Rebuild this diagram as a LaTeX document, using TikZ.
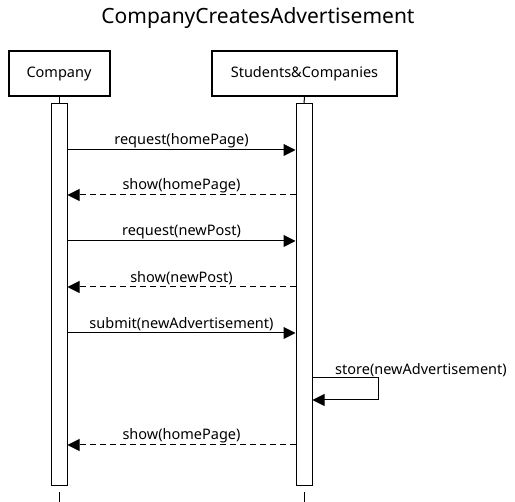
\documentclass[tikz,border=0pt]{standalone}
\usepackage{fontspec}
\setmainfont{Noto Sans}
\usepackage{tikz}
\usetikzlibrary{arrows.meta}
\tikzstyle{actor} = [rectangle, minimum width=101pt, minimum height=45pt, text centered, draw=black, line width=2pt, font=\fontsize{14.5}{17}\selectfont]
\tikzstyle{activation} = [rectangle, minimum width=16pt, minimum height=382pt, draw=black, fill=white, line width=1pt, inner sep=0pt]
\tikzstyle{lifeline} = [line width=1pt]
\tikzstyle{call} = [line width=1pt, -{Triangle[length=12pt,width=12pt]}]
\tikzstyle{reply} = [line width=1pt, dash pattern=on 6pt off 4pt, -{Triangle[length=12pt,width=12pt]}]
\tikzstyle{label} = [above, font=\fontsize{14.5}{17}\selectfont, inner sep=1.5pt]

\begin{document}
\begin{tikzpicture}[x=1pt, y=1pt]
\useasboundingbox (0,0) rectangle (515,-502);

% Title
\node (title) at (258,-18) {\fontsize{21}{25}\selectfont CompanyCreatesAdvertisement};

% Participants
\node (company) [actor] at (59,-73.5) {Company};
\node (students) [actor, minimum width=185pt] at (304.5,-73.5) {Students\&Companies};

% Activations
\node (compact) [activation] at (59,-295) {};
\node (stuact) [activation] at (304,-295) {};

\coordinate (combottom) at (59,-502);
\coordinate (stubottom) at (304,-502);

\draw [lifeline] (company.south) -- (compact.north);
\draw [lifeline] (students.south) -- (stuact.north);
\draw [lifeline] ([yshift=-6pt]compact.south) -- (combottom);
\draw [lifeline] ([yshift=-6pt]stuact.south) -- (stubottom);

% Messages
\coordinate (m1) at (0,-150);
\coordinate (m2) at (0,-195);
\coordinate (m3) at (0,-241);
\coordinate (m4) at (0,-287);
\coordinate (m5) at (0,-333);
\coordinate (m6) at (0,-378);
\coordinate (m7) at (0,-445);
\coordinate (selfend) at (378,-400);

\draw [call] (compact.east |- m1) -- node[label] {request(homePage)} (stuact.west |- m1);
\draw [reply] (stuact.west |- m2) -- node[label] {show(homePage)} (compact.east |- m2);
\draw [call] (compact.east |- m3) -- node[label] {request(newPost)} (stuact.west |- m3);
\draw [reply] (stuact.west |- m4) -- node[label] {show(newPost)} (compact.east |- m4);
\draw [call] (compact.east |- m5) -- node[label] {submit(newAdvertisement)} (stuact.west |- m5);
\draw [call] (stuact.east |- m6) -| (selfend) -- (stuact.east |- selfend);
\node (storelabel) [label, anchor=south west] at ([xshift=21pt]stuact.east |- m6) {store(newAdvertisement)};
\draw [reply] (stuact.west |- m7) -- node[label] {show(homePage)} (compact.east |- m7);

\end{tikzpicture}
\end{document}
